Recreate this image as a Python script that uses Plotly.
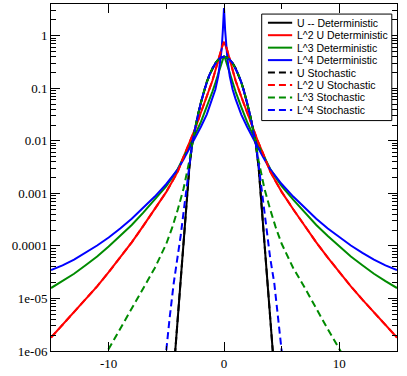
import plotly.graph_objects as go

# deterministic curves share one x grid (right half, mirrored for the left half)
X_DET = [0, 0.1, 0.2, 0.3, 0.5, 0.75, 1, 1.5, 2, 2.5, 3, 3.5, 4, 4.5, 5,
         6, 7, 8, 9, 10, 11, 12, 13, 14, 15]
U_DET_X = [0, 0.25, 0.5, 0.75, 1, 1.25, 1.5, 1.75, 2, 2.25, 2.5, 2.75,
           3, 3.25, 3.5, 3.75, 4, 4.22, 4.4]
U_DET = [0.399, 0.387, 0.352, 0.301, 0.242, 0.183, 0.13, 0.086, 0.054, 0.0317,
         0.0175, 0.0091, 0.0032, 6.3e-4, 1.26e-4, 2.5e-5, 4.5e-6, 1.0e-6, 3.2e-7]
L2_DET = [0.76, 0.69, 0.60, 0.51, 0.355, 0.219, 0.141, 0.069, 0.0347, 0.017,
          0.0091, 0.005, 0.00263, 0.00166, 0.00107, 5.0e-4, 2.4e-4, 1.17e-4,
          6.0e-5, 3.16e-5, 1.7e-5, 9.5e-6, 5.5e-6, 3.16e-6, 1.8e-6]
L3_DET = [0.417, 0.372, 0.316, 0.269, 0.19, 0.126, 0.087, 0.0437, 0.0229, 0.0132,
          0.0079, 0.0049, 0.00295, 0.002, 0.00138, 7.6e-4, 4.3e-4, 2.5e-4,
          1.55e-4, 9.8e-5, 6.3e-5, 4.3e-5, 2.95e-5, 2.14e-5, 1.58e-5]
L4_DET = [3.39, 1.26, 0.562, 0.355, 0.17, 0.095, 0.063, 0.0316, 0.0186, 0.0112,
          0.0071, 0.00447, 0.00288, 0.00209, 0.00151, 8.7e-4, 5.25e-4, 3.3e-4,
          2.14e-4, 1.45e-4, 1.02e-4, 7.4e-5, 5.5e-5, 4.27e-5, 3.47e-5]

# stochastic curves
U_STO_X = U_DET_X
U_STO = U_DET
L2_STO = L2_DET
L3_STO_X = [0, 0.25, 0.5, 0.75, 1, 1.25, 1.5, 1.75, 2, 2.25, 2.5, 2.75,
            3, 3.5, 4, 4.5, 5, 6, 7, 8, 9, 10.1, 10.5]
L3_STO = [0.399, 0.387, 0.352, 0.301, 0.242, 0.183, 0.13, 0.086, 0.054, 0.0317,
          0.0175, 0.0091, 4.2e-3, 1.25e-3, 5e-4, 2.2e-4, 1.1e-4, 3.8e-5,
          1.6e-5, 6.3e-6, 2.6e-6, 1.0e-6, 7e-7]
L4_STO_X = [0, 0.25, 0.5, 0.75, 1, 1.25, 1.5, 1.75, 2, 2.25, 2.5, 2.75,
            3, 3.25, 3.5, 3.75, 4, 4.36, 4.7, 5.02, 5.2]
L4_STO = [0.399, 0.387, 0.352, 0.301, 0.242, 0.183, 0.13, 0.086, 0.054, 0.0317,
          0.0175, 0.0091, 3.5e-3, 1.2e-3, 4.5e-4, 1.6e-4, 6e-5, 1.95e-5,
          4.5e-6, 1.0e-6, 4e-7]

LABELS = ["U -- Deterministic", "L^2 U Deterministic", "L^3 Deterministic",
          "L^4 Deterministic", "U Stochastic", "L^2 U Stochastic",
          "L^3 Stochastic", "L^4 Stochastic"]

Y_TICKS = [1, 0.1, 0.01, 0.001, 0.0001, 1e-5, 1e-6]
Y_TICKTEXT = ["1", "0.1", "0.01", "0.001", "0.0001", "1e-05", "1e-06"]
X_TICKS = [-10, 0, 10]
X_TICKTEXT = ["-10", "0", "10"]

COLORS = {"black": "#000000", "red": "#ff0000", "green": "#008b00", "blue": "#0000ff"}
DASH = "7px,4px"


def both_sides(xs, ys):
    # curves are symmetric about x = 0
    x = [-v for v in reversed(xs[1:])] + list(xs)
    y = list(reversed(ys[1:])) + list(ys)
    return x, y


series = [
    (U_DET_X, U_DET, "black", "solid"),
    (X_DET, L2_DET, "red", "solid"),
    (X_DET, L3_DET, "green", "solid"),
    (X_DET, L4_DET, "blue", "solid"),
    (U_STO_X, U_STO, "black", DASH),
    (X_DET, L2_STO, "red", DASH),
    (L3_STO_X, L3_STO, "green", DASH),
    (L4_STO_X, L4_STO, "blue", DASH),
]

fig = go.Figure()
for (xs, ys, col, dash), name in zip(series, LABELS):
    x, y = both_sides(xs, ys)
    fig.add_trace(go.Scatter(
        x=x, y=y, mode="lines", name=name,
        line=dict(color=COLORS[col], width=2, dash=dash),
        showlegend=False,
    ))

# hand-drawn legend (plotly's own legend rows are too tall here)
lx0, lx1, ly0, ly1 = 0.609, 0.985, 0.664, 0.971
fig.add_shape(type="rect", xref="paper", yref="paper", x0=lx0, x1=lx1, y0=ly0, y1=ly1,
              line=dict(color="black", width=1), fillcolor="white", layer="above")
row_top, row_step = 0.946, 0.0359
for i, ((_, _, col, dash), name) in enumerate(zip(series, LABELS)):
    yy = row_top - i * row_step
    fig.add_shape(type="line", xref="paper", yref="paper", x0=0.627, x1=0.697, y0=yy, y1=yy,
                  line=dict(color=COLORS[col], width=2, dash=dash), layer="above")
    fig.add_annotation(x=0.705, y=yy, xref="paper", yref="paper", text=name,
                       showarrow=False, xanchor="left", yanchor="middle",
                       font=dict(family="Liberation Sans, Arial, sans-serif", size=10.5, color="black"))

minor_y = [m * 10 ** e for e in range(-6, 1) for m in range(2, 10)]

fig.update_layout(
    width=407, height=376,
    margin=dict(l=51, r=10, t=4, b=25),
    paper_bgcolor="white", plot_bgcolor="white",
    font=dict(family="Liberation Serif, serif", size=13, color="black"),
    xaxis=dict(
        range=[-15, 15], showgrid=False, zeroline=False,
        showline=True, linecolor="black", linewidth=1, mirror="ticks",
        ticks="inside", ticklen=9, tickcolor="black",
        tickmode="array", tickvals=X_TICKS, ticktext=X_TICKTEXT,
        minor=dict(tickmode="array", tickvals=[-5, 5], ticks="inside", ticklen=5, tickcolor="black"),
    ),
    yaxis=dict(
        type="log", range=[-6, 0.605], showgrid=False, zeroline=False,
        showline=True, linecolor="black", linewidth=1, mirror="ticks",
        ticks="inside", ticklen=9, tickcolor="black",
        tickmode="array", tickvals=Y_TICKS, ticktext=Y_TICKTEXT,
        minor=dict(tickmode="array", tickvals=minor_y, ticks="inside", ticklen=5, tickcolor="black"),
    ),
)

# drop the page's default body margin so the figure sits at the window corner
fig.write_html("out.html", config={"displayModeBar": False},
               post_script="document.body.style.margin='0';")
